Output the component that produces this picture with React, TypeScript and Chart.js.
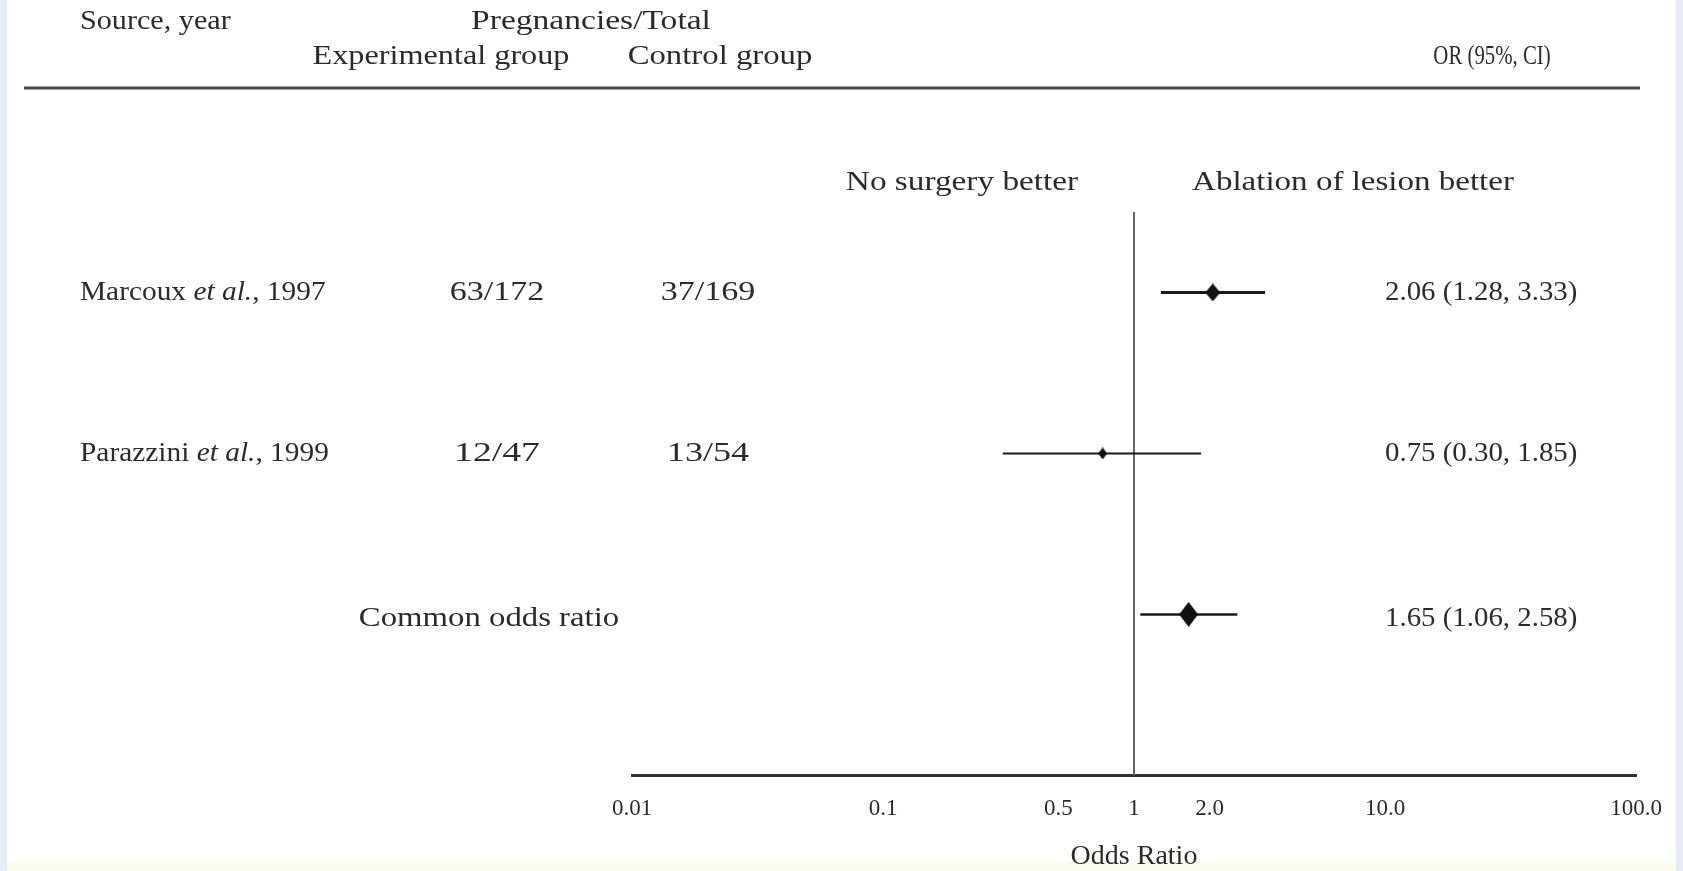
import React, { useEffect, useRef } from "react";
import { Chart, registerables } from "chart.js";

Chart.register(...registerables);

// ---- data ----
const studyAuthors = ["Marcoux", "Parazzini"];
const studyYears = ["1997", "1999"];
const pooledLabel = "Common odds ratio";
const experimentalGroup = ["63/172", "12/47"];
const controlGroup = ["37/169", "13/54"];
const oddsRatio = [2.06, 0.75, 1.65];
const ciLower = [1.28, 0.3, 1.06];
const ciUpper = [3.33, 1.85, 2.58];
const rowPosition = [3, 2, 1];
const orText = ["2.06 (1.28, 3.33)", "0.75 (0.30, 1.85)", "1.65 (1.06, 2.58)"];
const tickValues = [0.01, 0.1, 0.5, 1, 2, 10, 100];
const tickLabels = ["0.01", "0.1", "0.5", "1", "2.0", "10.0", "100.0"];
const nullLine = [1, 1];
const nullLineSpan = [0, 3.5];

// ---- styles ----
const FAMILY = '"Liberation Serif", "Times New Roman", serif';
const SIZE = 28;
const K = 26 / 28;
const TEXT = "#2b2b2b";
const ciWidths = [3, 2, 2.5];
const markerSizes = [
  [15, 18],
  [9, 12],
  [19, 25],
];
const fracScale = [
  [1.31, 1.31],
  [1.45, 1.39],
];

function diamond(w: number, h: number) {
  const c = document.createElement("canvas");
  c.width = w;
  c.height = h;
  const g = c.getContext("2d")!;
  g.beginPath();
  g.moveTo(w / 2, 0);
  g.lineTo(w, h / 2);
  g.lineTo(w / 2, h);
  g.lineTo(0, h / 2);
  g.closePath();
  g.fillStyle = "#111";
  g.fill();
  return c;
}

function font(italic = false) {
  return `${italic ? "italic " : ""}${SIZE}px ${FAMILY}`;
}

function drawText(ctx: any, text: string, x: number, y: number, align: string, hs: number) {
  ctx.save();
  ctx.translate(x, y);
  ctx.scale(hs * K, 1);
  ctx.font = font();
  ctx.textAlign = align;
  ctx.textBaseline = "middle";
  ctx.fillText(text, 0, 0);
  ctx.restore();
}

const textPlugin = {
  id: "forestText",
  beforeDraw(chart: any) {
    const ctx = chart.ctx;
    ctx.save();
    ctx.fillStyle = "#ffffff";
    ctx.fillRect(0, 0, chart.width, chart.height);
    ctx.fillStyle = "#e5ecf5";
    ctx.fillRect(0, 0, 7, chart.height);
    ctx.fillRect(chart.width - 7, 0, 7, chart.height);
    ctx.fillStyle = "#fafcee";
    ctx.fillRect(7, 862, chart.width - 14, chart.height - 862);
    ctx.restore();
  },
  afterDraw(chart: any) {
    const ctx = chart.ctx;
    const y = chart.scales.y;
    ctx.save();
    ctx.fillStyle = TEXT;

    // header
    drawText(ctx, "Source, year", 80, 22, "left", 1.16);
    drawText(ctx, "Pregnancies/Total", 591, 22, "center", 1.29);
    drawText(ctx, "Experimental group", 441, 57, "center", 1.24);
    drawText(ctx, "Control group", 720, 57, "center", 1.26);
    drawText(ctx, "OR (95%, CI)", 1492, 57, "center", 0.8);

    ctx.strokeStyle = "#4a4a4a";
    ctx.lineWidth = 3;
    ctx.beginPath();
    ctx.moveTo(24, 88);
    ctx.lineTo(1640, 88);
    ctx.stroke();

    drawText(ctx, "No surgery better", 962, 183, "center", 1.28);
    drawText(ctx, "Ablation of lesion better", 1353, 183, "center", 1.27);

    // rows
    studyAuthors.forEach((author, i) => {
      const py = y.getPixelForValue(rowPosition[i]);
      const runs: [string, boolean][] = [
        [author + " ", false],
        ["et al.", true],
        [", " + studyYears[i], false],
      ];
      ctx.save();
      ctx.translate(80, py);
      ctx.scale(1.13 * K, 1);
      ctx.textAlign = "left";
      ctx.textBaseline = "middle";
      let cx = 0;
      runs.forEach(([t, it]) => {
        ctx.font = font(it);
        ctx.fillText(t, cx, 0);
        cx += ctx.measureText(t).width;
      });
      ctx.restore();
      drawText(ctx, experimentalGroup[i], 497, py, "center", fracScale[i][0]);
      drawText(ctx, controlGroup[i], 708, py, "center", fracScale[i][1]);
    });
    const pooledY = y.getPixelForValue(rowPosition[2]) + 4;
    drawText(ctx, pooledLabel, 489, pooledY, "center", 1.26);

    orText.forEach((t, i) => {
      drawText(ctx, t, 1385, y.getPixelForValue(rowPosition[i]) + (i === 2 ? 4 : 0), "left", 1.11);
    });
    ctx.restore();
  },
};

export default function App() {
  const ref = useRef<HTMLCanvasElement>(null);

  useEffect(() => {
    if (!ref.current) return;
    const markers = markerSizes.map(([w, h]) => diamond(w, h));
    const ciDatasets = oddsRatio.map((_, i) => ({
      type: "line" as const,
      data: [
        { x: ciLower[i], y: rowPosition[i] },
        { x: ciUpper[i], y: rowPosition[i] },
      ],
      borderColor: "#1a1a1a",
      borderWidth: ciWidths[i],
      pointRadius: 0,
      fill: false,
    }));
    const chart = new Chart(ref.current, {
      type: "scatter",
      data: {
        datasets: [
          {
            type: "scatter" as const,
            data: oddsRatio.map((v, i) => ({ x: v, y: rowPosition[i] })),
            pointStyle: markers as any,
            pointRadius: 6,
            backgroundColor: "#111",
          },
          ...ciDatasets,
          {
            type: "line" as const,
            data: nullLine.map((v, i) => ({ x: v, y: nullLineSpan[i] })),
            borderColor: "#666",
            borderWidth: 2,
            pointRadius: 0,
            fill: false,
          },
        ] as any,
      },
      options: {
        responsive: false,
        maintainAspectRatio: false,
        devicePixelRatio: 1,
        animation: false,
        layout: { padding: { left: 632, right: 47, top: 212, bottom: 0 } },
        plugins: { legend: { display: false }, tooltip: { enabled: false } },
        scales: {
          x: {
            type: "logarithmic",
            min: 0.01,
            max: 100,
            afterBuildTicks: (s: any) => {
              s.ticks = tickValues.map((v) => ({ value: v }));
            },
            ticks: {
              autoSkip: false,
              maxRotation: 0,
              padding: 20,
              color: TEXT,
              font: { family: FAMILY, size: 23 },
              callback: (_v: any, i: number) => tickLabels[i],
            },
            grid: { display: false, drawTicks: false },
            border: { display: true, color: "#333", width: 3 },
            title: {
              display: true,
              text: "Odds Ratio",
              color: TEXT,
              font: { family: FAMILY, size: 28, lineHeight: 1 },
              padding: { top: 0, bottom: 0 },
            },
          },
          y: { type: "linear", min: 0, max: 3.5, display: false },
        },
      },
      plugins: [textPlugin],
    });
    return () => chart.destroy();
  }, []);

  return (
    <div style={{ position: "fixed", left: 0, top: 0, width: 1683, height: 871, background: "#fff" }}>
      <canvas ref={ref} width={1683} height={871} style={{ display: "block" }} />
    </div>
  );
}
